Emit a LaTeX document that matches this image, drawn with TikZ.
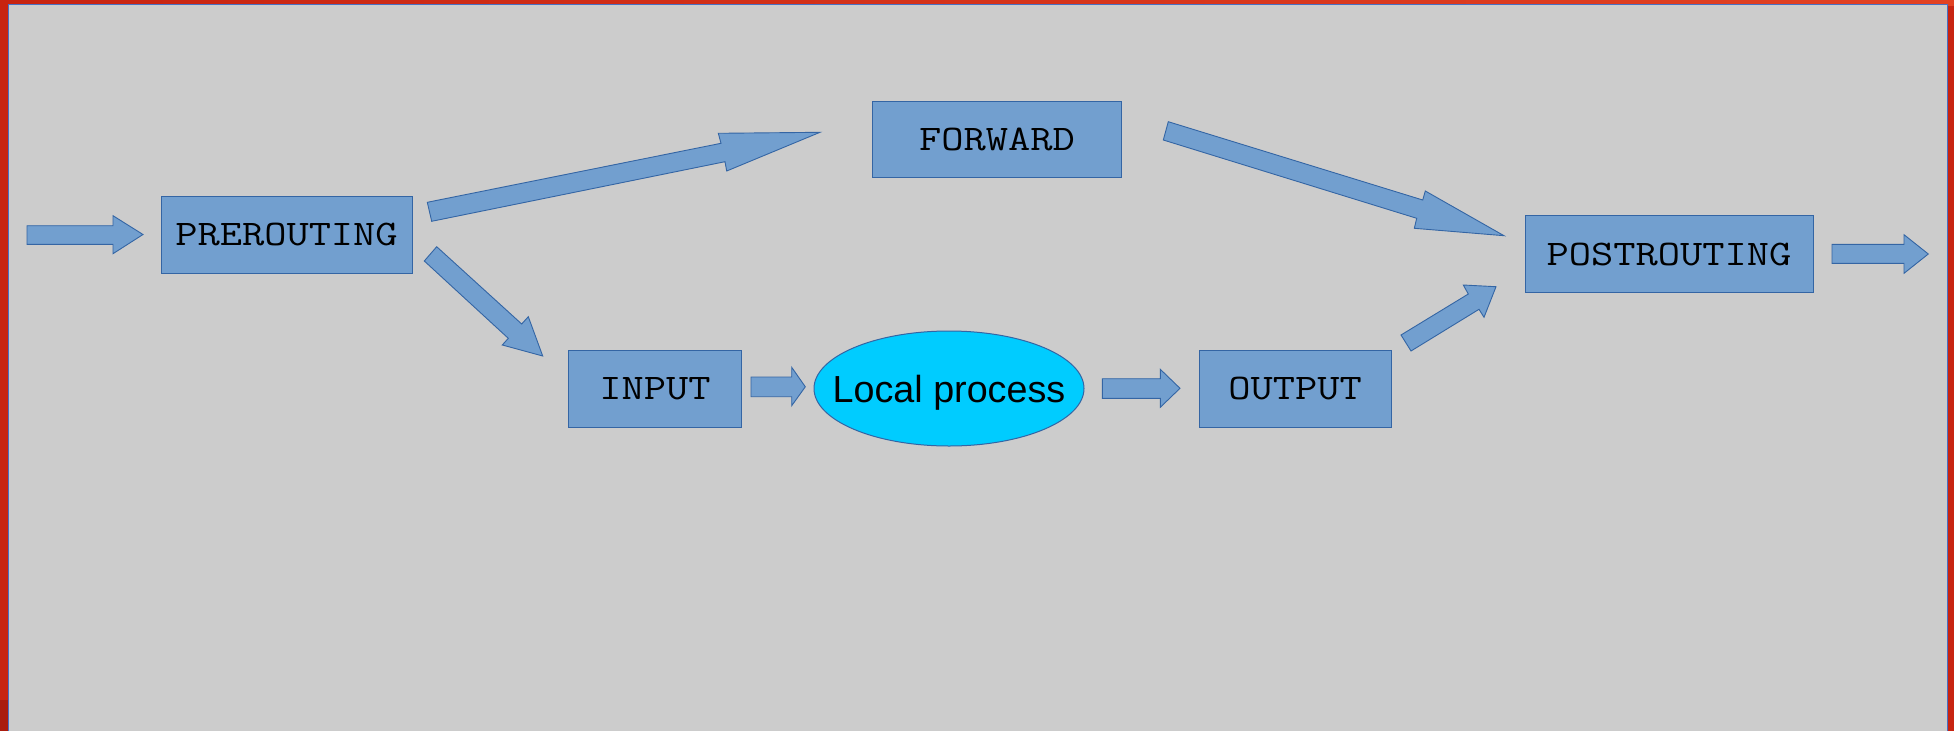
\documentclass[tikz,border=0pt]{standalone}
\usepackage{fontspec}
\newfontfamily\lsans{Liberation Sans}
\usetikzlibrary{shapes.geometric}
\definecolor{frameL}{RGB}{200,36,17}
\definecolor{frameR}{RGB}{226,66,35}
\definecolor{frameD}{RGB}{170,28,14}
\definecolor{bg}{RGB}{204,204,204}
\definecolor{boxfill}{RGB}{114,159,207}
\definecolor{boxline}{RGB}{52,101,164}
\definecolor{ellfill}{RGB}{0,204,255}
\definecolor{edge}{RGB}{72,112,196}
\begin{document}
\begin{tikzpicture}[x=1pt,y=-1pt,
  stage/.style={draw=boxline, fill=boxfill, line width=1pt, rectangle, inner sep=0pt,
    font=\fontsize{36}{40}\selectfont\ttfamily},
  proc/.style={draw=boxline, fill=ellfill, line width=1pt, ellipse, inner sep=0pt},
  proctext/.style={inner sep=0pt, text depth=0pt, font=\fontsize{37.7}{42}\selectfont\lsans},
  blockarrow/.style={draw=boxline, fill=boxfill, line width=0.9pt, line join=miter}]
\useasboundingbox (0,0) rectangle (1954,731);
% frame
\fill[frameL] (0,0) rectangle (1954,731);
\shade[left color=frameL, right color=frameR] (0,0) rectangle (1954,5);
\fill[frameD] (0,700) rectangle (8,731);
\fill[bg] (8.5,4.5) rectangle (1947.5,731);
\draw[edge, line width=1pt] (8.5,731) -- (8.5,4.5) -- (1947.5,4.5) -- (1947.5,731);
% stages
\node[stage, minimum width=251pt, minimum height=77pt] (pre) at (286.5,234.5) {\scalebox{1.2}[1]{PREROUTING}};
\node[stage, minimum width=249pt, minimum height=76pt] (fwd) at (997,139) {\scalebox{1.2}[1]{FORWARD}};
\node[stage, minimum width=173pt, minimum height=77pt] (in) at (655,388.8) {\scalebox{1.2}[1]{INPUT}};
\node[stage, minimum width=192pt, minimum height=77pt] (out) at (1295,388.8) {\scalebox{1.2}[1]{OUTPUT}};
\node[stage, minimum width=288pt, minimum height=77pt] (post) at (1669,254.3) {\scalebox{1.2}[1]{POSTROUTING}};
\node[proc, minimum width=270pt, minimum height=115pt] (local) at (949,388.5) {};
\node[proctext] (localtext) at (local.center) {Local process};
% block arrows
\filldraw[blockarrow] (27,225.7) -- (113,225.7) -- (113,215.7) -- (143,234.5) -- (113,253.7) -- (113,244.3) -- (27,244.3) -- cycle;
\filldraw[blockarrow] (427.3,202.3) -- (721,143.3) -- (718.3,133.3) -- (820,132.3) -- (726.7,171) -- (725,161.7) -- (431.7,221.3) -- cycle;
\filldraw[blockarrow] (436.7,246.7) -- (521.7,324) -- (528.3,316.7) -- (542.7,356) -- (502.3,345) -- (508.3,338.3) -- (424.3,261) -- cycle;
\filldraw[blockarrow] (751,377) -- (791.7,377) -- (791.7,367.3) -- (805.3,386.8) -- (791.7,405.7) -- (791.7,396.7) -- (751,396.7) -- cycle;
\filldraw[blockarrow] (1102.3,378.7) -- (1160.3,378.7) -- (1160.3,369.3) -- (1180,388.3) -- (1160.3,407.3) -- (1160.3,398.3) -- (1102.3,398.3) -- cycle;
\filldraw[blockarrow] (1168.3,121.7) -- (1422.7,200) -- (1425.3,191) -- (1504,235.7) -- (1414.3,228.3) -- (1416.7,218.3) -- (1163.3,140) -- cycle;
\filldraw[blockarrow] (1401,335) -- (1468.3,294) -- (1463.3,285) -- (1496,286.7) -- (1484,317.3) -- (1479,309.3) -- (1411,351) -- cycle;
\filldraw[blockarrow] (1832,244.3) -- (1904,244.3) -- (1904,234.7) -- (1928.3,254) -- (1904,273.3) -- (1904,263.3) -- (1832,263.3) -- cycle;
\end{tikzpicture}
\end{document}
